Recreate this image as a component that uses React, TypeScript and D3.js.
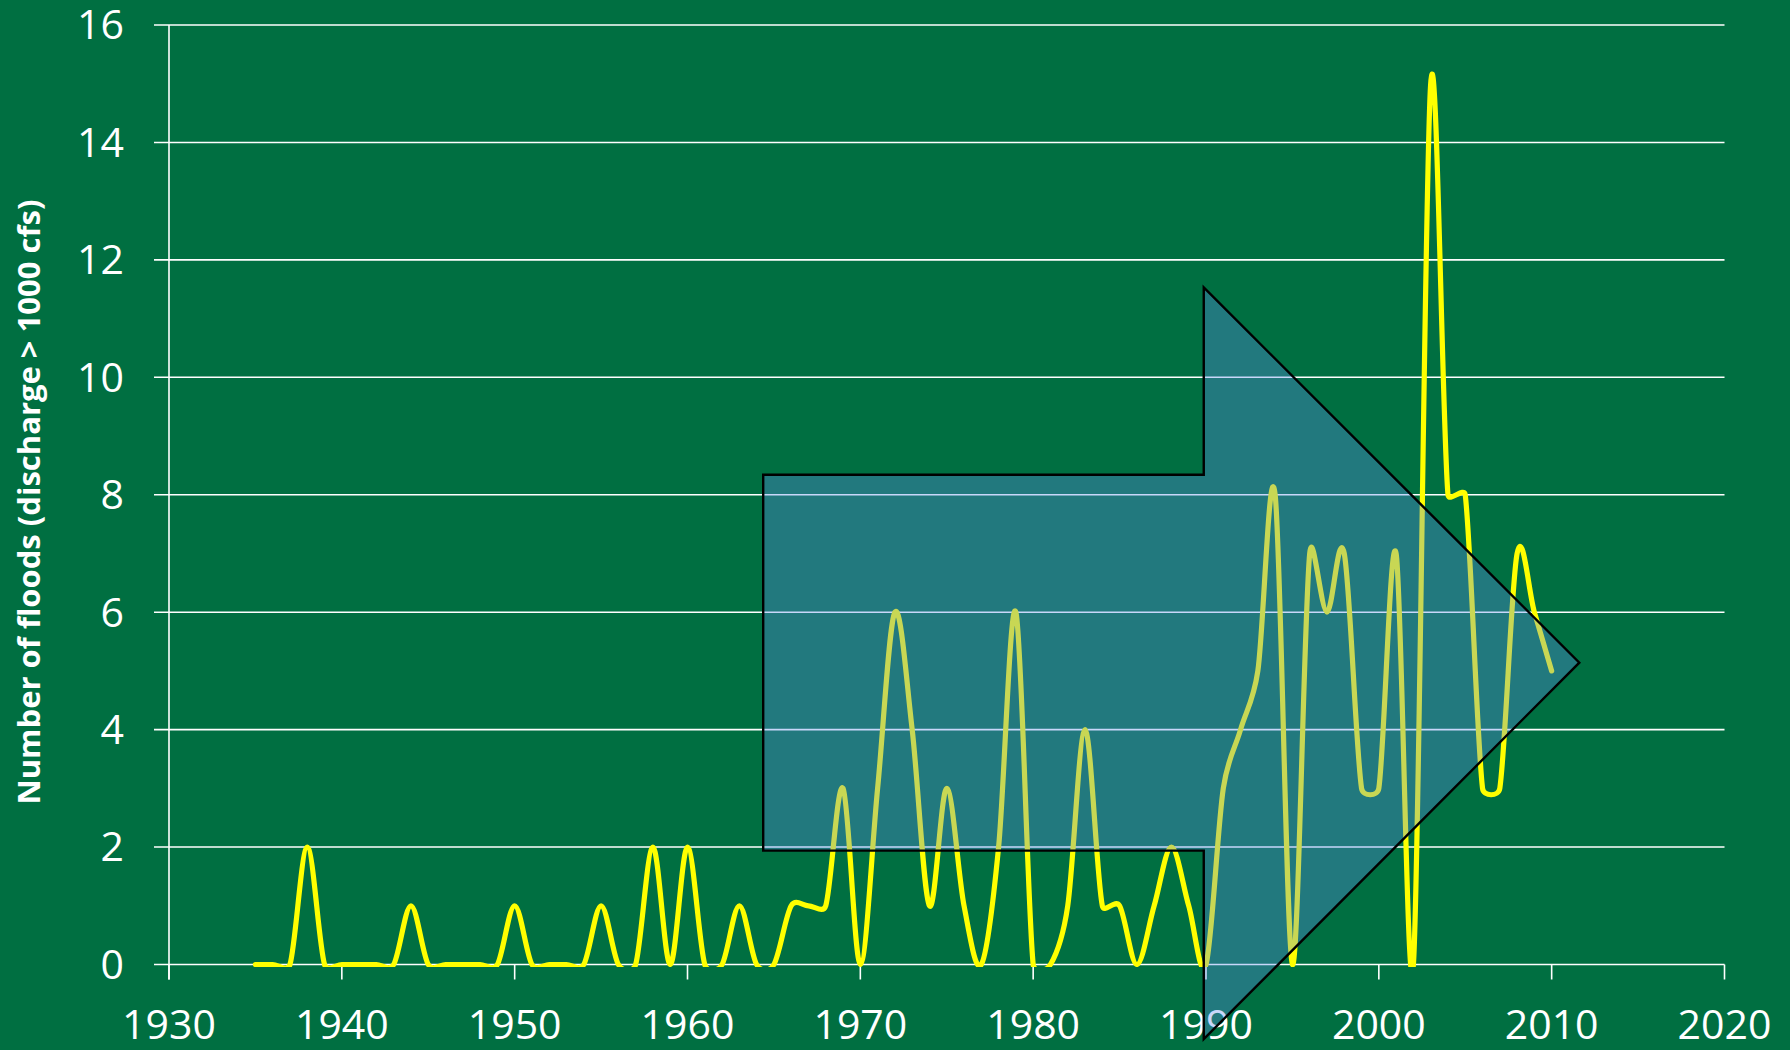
import React from "react";
import * as d3 from "d3";

const years: number[] = d3.range(1935, 2011);
const floods: number[] = [
  0, 0, 0, 2, 0, 0, 0, 0, 0, 1, // 1935-1944
  0, 0, 0, 0, 0, 1, 0, 0, 0, 0, // 1945-1954
  1, 0, 0, 2, 0, 2, 0, 0, 1, 0, // 1955-1964
  0, 1, 1, 1, 3, 0, 3, 6, 4, 1, // 1965-1974
  3, 1, 0, 2, 6, 0, 0, 1, 4, 1, // 1975-1984
  1, 0, 1, 2, 1, 0, 3, 4, 5, 8, // 1985-1994
  0, 7, 6, 7, 3, 3, 7, 0, 15, 8, // 1995-2004
  8, 3, 3, 7, 6, 5,             // 2005-2010
];
const xTicks: number[] = [1930, 1940, 1950, 1960, 1970, 1980, 1990, 2000, 2010, 2020];
const yTicks: number[] = [0, 2, 4, 6, 8, 10, 12, 14, 16];
const yTitle = "Number of floods (discharge > 1000 cfs)";
// Arrow annotation outline, in data units (year, floods)
const arrowShape: [number, number][] = [
  [1964.38, 8.34],
  [1989.87, 8.34],
  [1989.87, 11.53],
  [2011.6, 5.14],
  [1989.87, -1.27],
  [1989.87, 1.94],
  [1964.38, 1.94],
];

const W = 1790;
const H = 1050;
const BG = "#006f41";

// Spreadsheet-style smoothed line: cubic Bezier with Catmull-Rom (1/6) control
// offsets, capped at half of the segment length.
function curveSpreadsheet(context: any) {
  let pts: [number, number][] = [];
  return {
    areaStart() {},
    areaEnd() {},
    lineStart() {
      pts = [];
    },
    point(px: number, py: number) {
      pts.push([+px, +py]);
    },
    lineEnd() {
      const n = pts.length;
      if (!n) return;
      context.moveTo(pts[0][0], pts[0][1]);
      const dist = (a: number[], b: number[]) => Math.hypot(b[0] - a[0], b[1] - a[1]);
      for (let i = 0; i < n - 1; i++) {
        const p0 = pts[i - 1] || pts[i];
        const p1 = pts[i];
        const p2 = pts[i + 1];
        const p3 = pts[i + 2] || pts[i + 1];
        const d12 = dist(p1, p2);
        const d02 = dist(p0, p2);
        const d13 = dist(p1, p3);
        const f1 = d02 > 0 ? Math.min(1 / 6, d12 / (2 * d02)) : 0;
        const f2 = d13 > 0 ? Math.min(1 / 6, d12 / (2 * d13)) : 0;
        context.bezierCurveTo(
          p1[0] + (p2[0] - p0[0]) * f1,
          p1[1] + (p2[1] - p0[1]) * f1,
          p2[0] - (p3[0] - p1[0]) * f2,
          p2[1] - (p3[1] - p1[1]) * f2,
          p2[0],
          p2[1]
        );
      }
    },
  };
}

export default function App() {
  const x = d3.scaleLinear().domain([1930, 2020]).range([169, 1724.5]);
  const y = d3.scaleLinear().domain([0, 16]).range([964.5, 25]);

  const line = d3
    .line<number>()
    .x((_, i) => x(years[i]))
    .y((d) => y(d))
    .curve(curveSpreadsheet as any);

  const arrowPath =
    "M" + arrowShape.map(([a, b]) => `${x(a)},${y(b)}`).join("L") + "Z";

  const font = "'Open Sans', 'Liberation Sans', sans-serif";

  return (
    <svg
      width={W}
      height={H}
      style={{ position: "absolute", left: 0, top: 0, display: "block" }}
    >
      <defs>
        <clipPath id="plotClip">
          <rect x={x(1930)} y={0} width={x(2020) - x(1930)} height={y(0) + 2.5} />
        </clipPath>
      </defs>
      <rect x={0} y={0} width={W} height={H} fill={BG} />

      {/* gridlines */}
      {yTicks.map((t) => (
        <line
          key={"g" + t}
          x1={154}
          x2={x(2020)}
          y1={y(t)}
          y2={y(t)}
          stroke="#ffffff"
          strokeWidth={1.6}
        />
      ))}
      {/* y axis line */}
      <line x1={x(1930)} x2={x(1930)} y1={y(16)} y2={y(0) + 15} stroke="#ffffff" strokeWidth={1.6} />
      {/* x ticks */}
      {xTicks.map((t) => (
        <line
          key={"xt" + t}
          x1={x(t)}
          x2={x(t)}
          y1={y(0)}
          y2={y(0) + 15}
          stroke="#ffffff"
          strokeWidth={1.6}
        />
      ))}

      {/* y tick labels */}
      {yTicks.map((t) => (
        <text
          key={"yl" + t}
          x={124}
          y={y(t)}
          dy="0.35em"
          textAnchor="end"
          fill="#ffffff"
          fontFamily={font}
          fontSize={41}
        >
          {t}
        </text>
      ))}
      {/* x tick labels */}
      {xTicks.map((t) => (
        <text
          key={"xl" + t}
          x={x(t)}
          y={1039}
          textAnchor="middle"
          fill="#ffffff"
          fontFamily={font}
          fontSize={41}
        >
          {t}
        </text>
      ))}

      {/* y axis title */}
      <text
        transform={`translate(40,${502}) rotate(-90)`}
        textAnchor="middle"
        fill="#ffffff"
        fontFamily={font}
        fontWeight="bold"
        fontSize={31}
        textLength={605}
        lengthAdjust="spacingAndGlyphs"
      >
        {yTitle}
      </text>

      {/* data line */}
      <g clipPath="url(#plotClip)">
        <path
          d={line(floods) || ""}
          fill="none"
          stroke="#ffff00"
          strokeWidth={5.2}
          strokeLinejoin="round"
          strokeLinecap="round"
        />
      </g>

      {/* arrow annotation */}
      <path
        d={arrowPath}
        fill="rgb(96,140,242)"
        fillOpacity={0.35}
        stroke="#000000"
        strokeWidth={2.4}
        strokeLinejoin="miter"
      />
    </svg>
  );
}
